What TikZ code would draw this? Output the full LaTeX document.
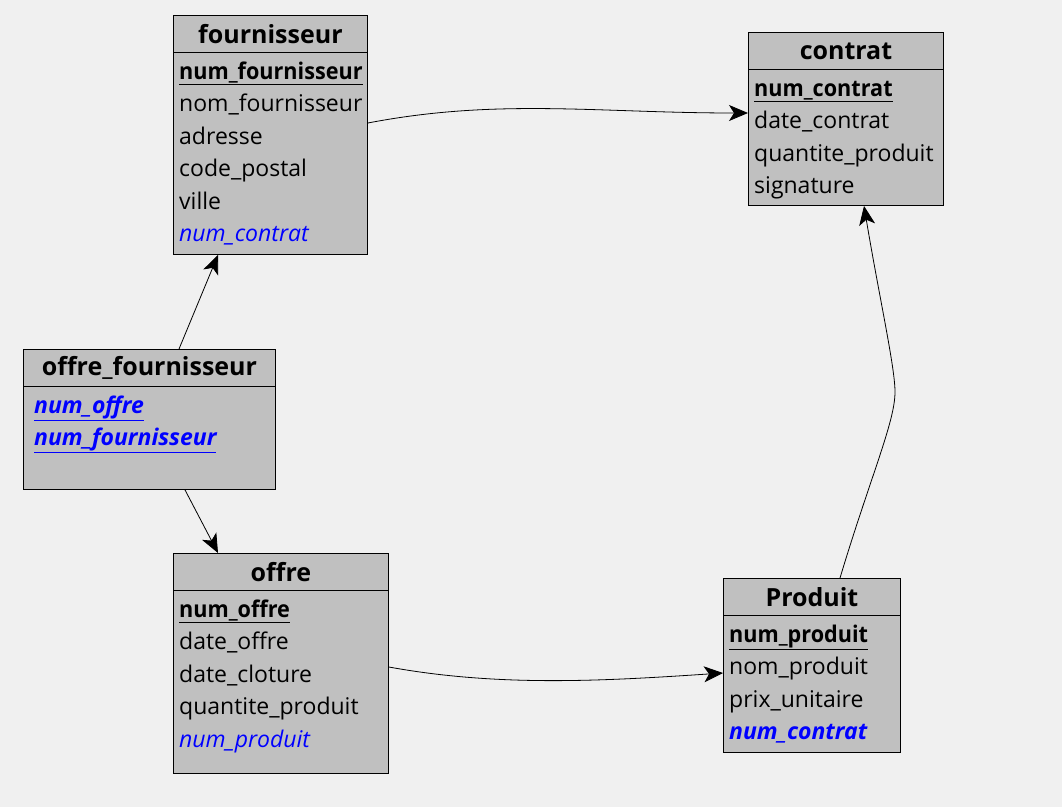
\documentclass[tikz,border=0pt]{standalone}
\usepackage{fontspec}
\setmainfont{Open Sans}
\usetikzlibrary{arrows.meta,calc}
\definecolor{BgClr}{rgb}{0.941,0.941,0.941}
\definecolor{EntityClr}{rgb}{0.753,0.753,0.753}
\definecolor{FkClr}{rgb}{0,0,1}
\newcommand{\pkey}[1]{\underline{\bfseries\addfontfeature{FakeStretch=0.94}#1}}
\newcommand{\fkey}[1]{\textcolor{FkClr}{\textit{#1}}}
\tikzset{
  entity/.style={draw=black,line width=0.9pt,fill=EntityClr,inner sep=0pt,anchor=north west},
  header/.style={font=\fontsize{25}{29}\selectfont\bfseries,inner sep=0pt},
  attr/.style={font=\fontsize{23}{27}\selectfont,inner sep=0pt,anchor=west,text height=17pt,text depth=5pt},
  relation/.style={line width=0.8pt,-{Stealth[length=19pt,width=16pt,inset=5pt]}}
}

\begin{document}
\begin{tikzpicture}[x=1pt,y=-1pt]
\useasboundingbox (0,0) rectangle (1062,807);
\fill[BgClr] (0,0) rectangle (1062,807);

% entities
\node[entity,minimum width=194pt,minimum height=239pt] (fou) at (173,15) {};
\node[entity,minimum width=195pt,minimum height=173pt] (con) at (748,32) {};
\node[entity,minimum width=252pt,minimum height=140pt] (oft) at (23,349) {};
\node[entity,minimum width=215pt,minimum height=220pt] (off) at (173,553) {};
\node[entity,minimum width=177pt,minimum height=174pt] (pro) at (723,578) {};

% headers
\foreach \e/\name in {fou/fournisseur,con/contrat,oft/offre\_fournisseur,off/offre,pro/Produit}{
  \node[header] (\e-h) at ([yshift=-19pt]\e.north) {\name};
  \draw[line width=0.9pt] ([yshift=-37pt]\e.north west) -- ([yshift=-37pt]\e.north east);
}

% attributes
\foreach \txt [count=\k from 0] in {\pkey{num\_fournisseur},nom\_fournisseur,adresse,code\_postal,ville,\fkey{num\_contrat}}
  \node[attr] (fou-\k) at ([xshift=6pt,yshift={-58pt-32.5pt*\k}]fou.north west) {\txt};
\foreach \txt [count=\k from 0] in {\pkey{num\_contrat},date\_contrat,quantite\_produit,signature}
  \node[attr] (con-\k) at ([xshift=6pt,yshift={-58pt-32.5pt*\k}]con.north west) {\txt};
\foreach \txt [count=\k from 0] in {\fkey{\underline{\textbf{num\_offre}}},\fkey{\underline{\textbf{num\_fournisseur}}}}
  \node[attr] (oft-\k) at ([xshift=11pt,yshift={-58pt-32.5pt*\k}]oft.north west) {\txt};
\foreach \txt [count=\k from 0] in {\pkey{num\_offre},date\_offre,date\_cloture,quantite\_produit,\fkey{num\_produit}}
  \node[attr] (off-\k) at ([xshift=6pt,yshift={-58pt-32.5pt*\k}]off.north west) {\txt};
\foreach \txt [count=\k from 0] in {\pkey{num\_produit},nom\_produit,prix\_unitaire,\fkey{\textbf{num\_contrat}}}
  \node[attr] (pro-\k) at ([xshift=6pt,yshift={-58pt-32.5pt*\k}]pro.north west) {\txt};

% relations
\coordinate (bend) at (895,392);
\draw[relation] ([yshift=-108pt]fou.north east) .. controls +(130,-25) and +(-150,0) .. ([yshift=-81pt]con.north west);
\draw[relation] ([xshift=156pt]oft.north west) -- ([xshift=45pt]fou.south west);
\draw[relation] ([xshift=162pt]oft.south west) -- ([xshift=45pt]off.north west);
\draw[relation] ([yshift=-114pt]off.north east) .. controls +(110,20) and +(-120,8) .. ([yshift=-95pt]pro.north west);
\draw[relation] ([xshift=117pt]pro.north west) .. controls +(30,-100) and +(0,30) .. (bend) .. controls +(0,-25) and +(15,90) .. ([xshift=116pt]con.south west);

\end{tikzpicture}
\end{document}
